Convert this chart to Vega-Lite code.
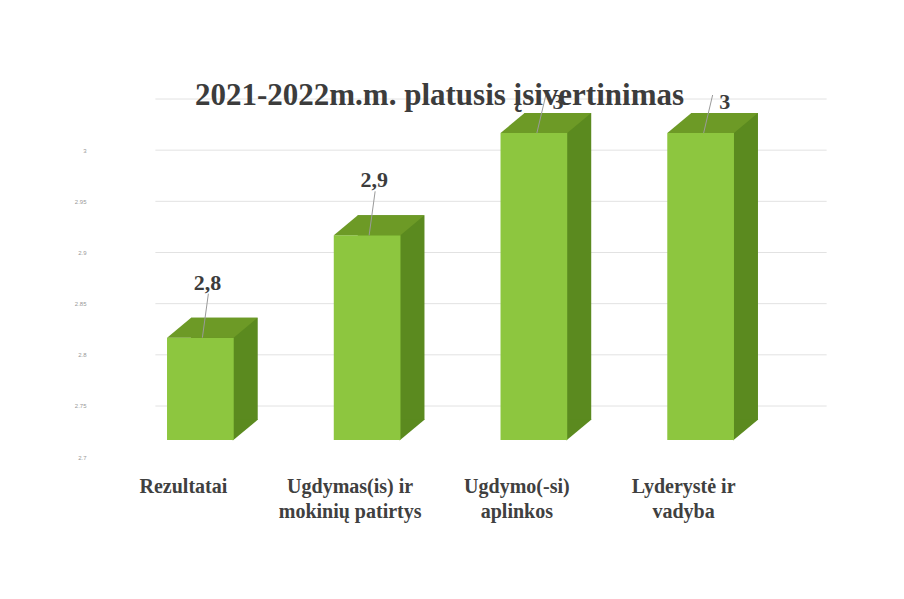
{
  "$schema": "https://vega.github.io/schema/vega-lite/v6.json",
  "width": 667,
  "height": 307,
  "autosize": {"type": "none"},
  "padding": {"left": 117, "top": 133, "right": 120, "bottom": 159},
  "background": "white",
  "title": {
    "text": "2021-2022m.m. platusis įsivertinimas",
    "font": "Liberation Serif",
    "fontSize": 31,
    "fontWeight": "bold",
    "color": "#3c3c3c",
    "anchor": "middle",
    "baseline": "alphabetic",
    "dx": -11,
    "dy": 55,
    "offset": 10
  },
  "config": {"view": {"stroke": null}},
  "data": {
    "values": [
      {"cat": "Rezultatai", "value": 2.8, "label": "2,8"},
      {"cat": "Ugdymas(is) ir\nmokinių patirtys", "value": 2.9, "label": "2,9"},
      {"cat": "Ugdymo(-si)\naplinkos", "value": 3.0, "label": "3"},
      {"cat": "Lyderystė ir\nvadyba", "value": 3.0, "label": "3"}
    ]
  },
  "layer": [
    {
      "data": {"values": [{"g": 2.7}, {"g": 2.75}, {"g": 2.8}, {"g": 2.85}, {"g": 2.9}, {"g": 2.95}, {"g": 3.0}]},
      "mark": {"type": "rule", "color": "#e2e2e2", "strokeWidth": 1, "xOffset": -45, "x2Offset": 126, "yOffset": -34, "y2Offset": -34},
      "encoding": {
        "x": {
          "datum": "Rezultatai", "type": "nominal", "title": null,
          "scale": {
            "domain": ["Rezultatai", "Ugdymas(is) ir\nmokinių patirtys", "Ugdymo(-si)\naplinkos", "Lyderystė ir\nvadyba"],
            "paddingInner": 0.6, "paddingOuter": 0.3
          },
          "axis": {
            "domain": false, "ticks": false, "labelAngle": 0, "labelAlign": "center",
            "labelExpr": "split(datum.label, '\\n')",
            "labelFont": "Liberation Serif", "labelFontSize": 20, "labelFontWeight": "bold",
            "labelColor": "#404040", "labelPadding": 36, "labelLineHeight": 25,
            "labelOffset": -17, "labelLimit": 0
          }
        },
        "x2": {"datum": "Lyderystė ir\nvadyba"},
        "y": {
          "field": "g", "type": "quantitative", "title": null,
          "scale": {"domain": [2.7, 3.0], "zero": false, "nice": false},
          "axis": {
            "grid": false, "domain": false, "ticks": false,
            "values": [2.7, 2.75, 2.8, 2.85, 2.9, 2.95, 3.0],
            "format": "~g",
            "labelFont": "Liberation Sans", "labelFontSize": 6, "labelColor": "#999999",
            "labelPadding": 31, "labelOffset": 17
          }
        },
        "y2": {"field": "g"}
      }
    },
    {
      "mark": {"type": "bar", "color": "#5b8a1f", "xOffset": 24, "yOffset": -20, "y2Offset": -20},
      "encoding": {
        "x": {"field": "cat", "type": "nominal", "title": null},
        "y": {"field": "value", "type": "quantitative", "title": null},
        "y2": {"datum": 2.7}
      }
    },
    {
      "mark": {"type": "point", "filled": true, "opacity": 1, "strokeWidth": 0, "color": "#5b8a1f",
               "shape": "M0.54,0.01 L0.54,-0.34 L0.96,-0.34 Z", "size": 14400},
      "encoding": {
        "x": {"field": "cat", "type": "nominal", "title": null},
        "y": {"datum": 2.7}
      }
    },
    {
      "mark": {"type": "bar", "color": "#8dc63f"},
      "encoding": {
        "x": {"field": "cat", "type": "nominal", "title": null},
        "y": {"field": "value", "type": "quantitative", "title": null},
        "y2": {"datum": 2.7}
      }
    },
    {
      "mark": {"type": "point", "filled": true, "opacity": 1, "strokeWidth": 0, "color": "#6d9a26",
               "shape": "M-0.555,0 L0.555,0 L0.955,-0.3333 L-0.155,-0.3333 Z", "size": 14400},
      "encoding": {
        "x": {"field": "cat", "type": "nominal", "title": null},
        "y": {"field": "value", "type": "quantitative", "title": null}
      }
    },
    {
      "mark": {"type": "rule", "color": "#9a9a9a", "strokeWidth": 1,
               "xOffset": {"expr": "datum.value >= 3 ? 3 : 2"},
               "x2Offset": {"expr": "datum.value >= 3 ? 12 : 8"},
               "yOffset": 0,
               "y2Offset": {"expr": "datum.value >= 3 ? -38 : -44"}},
      "encoding": {
        "x": {"field": "cat", "type": "nominal", "title": null},
        "x2": {"field": "cat"},
        "y": {"field": "value", "type": "quantitative", "title": null},
        "y2": {"field": "value"}
      }
    },
    {
      "mark": {"type": "text", "font": "Liberation Serif", "fontSize": 22, "fontWeight": "bold",
               "color": "#3c3c3c", "baseline": "alphabetic",
               "dx": {"expr": "datum.value >= 3 ? 24 : 7"},
               "dy": {"expr": "datum.value >= 3 ? -24 : -48"}},
      "encoding": {
        "x": {"field": "cat", "type": "nominal", "title": null},
        "y": {"field": "value", "type": "quantitative", "title": null},
        "text": {"field": "label"}
      }
    }
  ]
}
